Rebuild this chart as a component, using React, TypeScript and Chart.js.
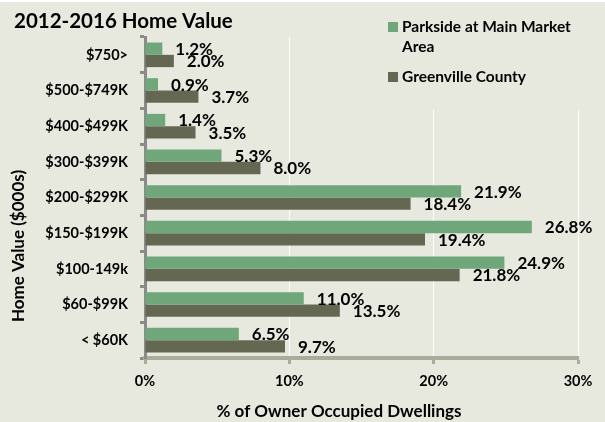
import React, { useEffect, useRef } from "react";
import { Chart, registerables } from "chart.js";

Chart.register(...registerables);

const categories = [
  "$750>",
  "$500-$749K",
  "$400-$499K",
  "$300-$399K",
  "$200-$299K",
  "$150-$199K",
  "$100-149k",
  "$60-$99K",
  "< $60K",
];
const parkside = [1.2, 0.9, 1.4, 5.3, 21.9, 26.8, 24.9, 11.0, 6.5];
const greenville = [2.0, 3.7, 3.5, 8.0, 18.4, 19.4, 21.8, 13.5, 9.7];
const xTicks = [0, 10, 20, 30];
const seriesNames = [["Parkside at Main Market", "Area"], ["Greenville County"]];

const BG = "#E8E9DE";
const GREEN = "#6FA67A";
const DARK = "#646852";
const FONT = "Lato, 'Open Sans', sans-serif";

const decorPlugin = {
  id: "decor",
  beforeDraw(chart: any) {
    const { ctx, width, height } = chart;
    ctx.save();
    ctx.fillStyle = BG;
    ctx.fillRect(0, 0, width, height);
    ctx.fillStyle = "#ffffff";
    ctx.fillRect(0, 0, width, 2);
    ctx.restore();
  },
  afterDatasetsDraw(chart: any) {
    const { ctx } = chart;
    ctx.save();
    ctx.font = `bold 17px ${FONT}`;
    ctx.fillStyle = "#000";
    ctx.textAlign = "left";
    ctx.textBaseline = "middle";
    chart.data.datasets.forEach((ds: any, di: number) => {
      const meta = chart.getDatasetMeta(di);
      meta.data.forEach((el: any, i: number) => {
        const v = ds.data[i];
        ctx.fillText(v.toFixed(1) + "%", el.x + 13, el.y + 1);
      });
    });
    ctx.restore();
  },
  afterDraw(chart: any) {
    const { ctx } = chart;
    ctx.save();
    // legend box (hides gridlines behind it)
    ctx.fillStyle = BG;
    ctx.fillRect(380, 2, chart.width - 380, 110 - 2);
    ctx.font = `bold 15.5px ${FONT}`;
    ctx.textAlign = "left";
    ctx.textBaseline = "middle";
    const colors = [GREEN, DARK];
    const ys = [27, 77];
    seriesNames.forEach((lines, i) => {
      ctx.fillStyle = colors[i];
      ctx.fillRect(388, ys[i] - 5, 10, 10);
      ctx.fillStyle = "#000";
      lines.forEach((t, li) => ctx.fillText(t, 402, ys[i] + li * 20));
    });
    // title
    ctx.font = `bold 20.5px ${FONT}`;
    ctx.textAlign = "left";
    ctx.fillText("2012-2016 Home Value", 14, 21);
    // axis titles
    ctx.font = `bold 17px ${FONT}`;
    ctx.textAlign = "center";
    ctx.fillText("% of Owner Occupied Dwellings", 339, 412);
    ctx.translate(19, 246);
    ctx.rotate(-Math.PI / 2);
    ctx.font = `bold 17px ${FONT}`;
    ctx.fillText("Home Value ($000s)", 0, 0);
    ctx.restore();
  },
};

export default function App() {
  const ref = useRef<HTMLCanvasElement | null>(null);
  useEffect(() => {
    document.body.style.margin = "0";
    const chart = new Chart(ref.current as HTMLCanvasElement, {
      type: "bar",
      data: {
        labels: categories,
        datasets: [
          {
            label: seriesNames[0].join(" "),
            data: parkside,
            backgroundColor: GREEN,
            categoryPercentage: 0.69,
            barPercentage: 1.0,
          },
          {
            label: seriesNames[1].join(" "),
            data: greenville,
            backgroundColor: DARK,
            categoryPercentage: 0.69,
            barPercentage: 1.0,
          },
        ],
      },
      options: {
        indexAxis: "y",
        animation: false,
        responsive: false,
        layout: { padding: { top: 37, right: 27, left: 0, bottom: 0 } },
        plugins: {
          legend: { display: false },
          title: { display: false },
          tooltip: { enabled: false },
        },
        scales: {
          x: {
            min: 0,
            max: 30,
            afterBuildTicks(scale: any) {
              scale.ticks = xTicks.map((v) => ({ value: v }));
            },
            afterFit(scale: any) {
              scale.height = 64;
            },
            grid: {
              color: "#ffffff",
              lineWidth: 1,
              tickColor: "#AAAC9B",
              tickLength: 6,
              tickWidth: 3,
            },
            border: { color: "#AAAC9B", width: 4 },
            ticks: {
              callback: (v: any) => v + "%",
              color: "#000",
              font: { family: FONT, size: 14.5, weight: "bold" },
              padding: 9,
            },
          },
          y: {
            afterFit(scale: any) {
              scale.width = 145;
            },
            grid: {
              drawOnChartArea: false,
              tickColor: "#8A8A8A",
              tickLength: 5,
              tickWidth: 3,
            },
            border: { color: "#8A8A8A", width: 3 },
            ticks: {
              color: "#000",
              font: { family: FONT, size: 14.5, weight: "bold" },
              padding: 12,
            },
          },
        },
      },
      plugins: [decorPlugin],
    } as any);
    return () => chart.destroy();
  }, []);
  return <canvas ref={ref} width={605} height={422} style={{ display: "block" }} />;
}
